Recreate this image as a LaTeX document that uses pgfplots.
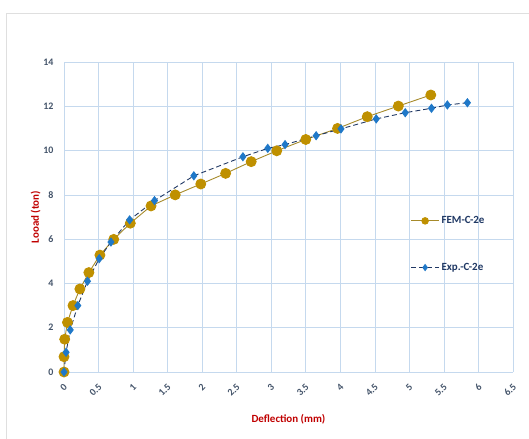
\documentclass[border=0pt]{standalone}
\usepackage{fontspec}
\setmainfont{Carlito}
\usepackage{pgfplots}
\pgfplotsset{compat=1.18}
\definecolor{gold}{HTML}{BF9000}
\definecolor{goldline}{HTML}{A68A2A}
\definecolor{expblue}{HTML}{1F78C8}
\definecolor{navy}{HTML}{203864}
\definecolor{gridc}{HTML}{C5D9EE}
\definecolor{tickc}{HTML}{44546A}
\definecolor{labred}{HTML}{C00000}
\definecolor{legtext}{HTML}{1F3864}
\begin{document}
\begin{tikzpicture}
\begin{axis}[
  name=ax,
  scale only axis,
  width=449bp, height=310bp,
  xmin=0, xmax=6.5, ymin=0, ymax=14,
  xtick={0,0.5,...,6.5},
  ytick={0,2,...,14},
  xticklabels={0,0.5,1,1.5,2,2.5,3,3.5,4,4.5,5,5.5,6,6.5},
  yticklabels={0,2,4,6,8,10,12,14},
  grid=major,
  major grid style={gridc, line width=0.6pt},
  axis line style={gridc, line width=0.8pt},
  axis x line*=bottom, axis y line*=left,
  tick style={draw=none},
  tick label style={font=\fontsize{10}{11}\selectfont\bfseries, text=tickc},
  x tick label style={xshift=4bp, yshift=-11bp, rotate=45, anchor=east},
  y tick label style={xshift=-7bp},
  xlabel={Deflection (mm)},
  ylabel={Looad (ton)},
  xlabel style={font=\fontsize{11}{12}\selectfont\bfseries, text=labred, yshift=-9bp},
  ylabel style={font=\fontsize{11}{12}\selectfont\bfseries, text=labred, yshift=-4bp},
  clip=false,
  legend style={draw=none, fill=none, at={(rel axis cs:0.765,0.515)}, anchor=north west,
    font=\fontsize{11}{12}\selectfont\bfseries, text=legtext, row sep=34bp,
    nodes={inner xsep=2bp}},
  legend cell align=left,
  legend image code/.code={\draw[#1] (0bp,0bp) -- (28bp,0bp);
     \draw[#1, draw=none] plot coordinates {(14bp,0bp)};},
]
\addlegendimage{goldline, line width=0.9pt, mark=*, mark size=3.3pt, mark options={solid, fill=gold, draw=gold}}
\addlegendentry{FEM-C-2e}
\addlegendimage{navy, line width=0.9pt, dash pattern=on 5pt off 3pt, mark=diamond*, mark size=3pt, mark options={solid, fill=expblue, draw=expblue}}
\addlegendentry{Exp.-C-2e}
\addplot[forget plot, goldline, line width=0.9pt, mark=*, mark size=5pt,
  mark options={solid, fill=gold, draw=gold}] coordinates {
(0,0) (0,0.69) (0.01,1.48) (0.05,2.24) (0.13,3.0) (0.23,3.75) (0.36,4.49)
(0.52,5.28) (0.72,5.99) (0.96,6.72) (1.26,7.5) (1.61,8.0) (1.98,8.49)
(2.34,8.97) (2.71,9.5) (3.08,9.99) (3.5,10.5) (3.96,11.0) (4.39,11.53)
(4.84,12.01) (5.31,12.51)
};
\addplot[forget plot, navy, line width=0.9pt, dash pattern=on 5pt off 3pt, mark=diamond*, mark size=4pt,
  mark options={solid, fill=expblue, draw=expblue}] coordinates {
(0,0) (0.03,0.89) (0.09,1.9) (0.2,3.0) (0.34,4.1) (0.51,5.12) (0.68,5.87)
(0.95,6.87) (1.31,7.74) (1.88,8.86) (2.59,9.72) (2.95,10.1) (3.2,10.27)
(3.65,10.67) (4.01,10.98) (4.52,11.43) (4.94,11.71) (5.32,11.91)
(5.55,12.06) (5.84,12.16)
};
\end{axis}
\pgfresetboundingbox
\path[use as bounding box] ([xshift=-64bp,yshift=-67bp]ax.south west) rectangle ([xshift=16bp,yshift=62bp]ax.north east);
\draw[gray!25, line width=0.8pt] ([xshift=-58bp,yshift=-67bp]ax.south west) -- ([xshift=-58bp,yshift=49bp]ax.north west) -- ([xshift=16bp,yshift=49bp]ax.north east);
\end{tikzpicture}
\end{document}
